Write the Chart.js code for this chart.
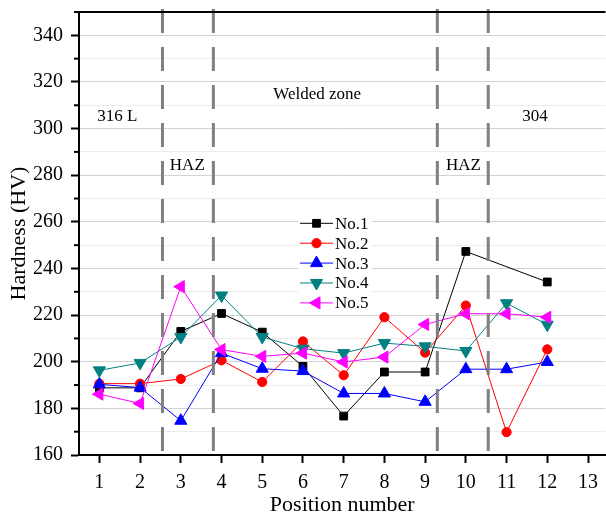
<!DOCTYPE html>
<html>
<head>
<meta charset="UTF-8">
<title>Hardness</title>
<style>
  body { margin: 0; background: #fff; }
  #wrap { width: 606px; height: 518px; overflow: hidden; }
</style>
</head>
<body>
<div id="wrap"><canvas id="myChart" width="606" height="518"></canvas></div>
<script src="https://cdn.jsdelivr.net/npm/chart.js"></script>
<script>
// data
const positions = [1, 2, 3, 4, 5, 6, 7, 8, 9, 10, 11, 12];
const no1 = [188.8, 188.8, 213.0, 220.7, 212.7, 198.0, 176.7, 195.6, 195.6, 247.3, null, 234.2];
const no2 = [190.6, 190.6, 192.6, 200.6, 191.3, 208.7, 194.2, 219.1, 203.9, 224.1, 169.8, 205.3];
const no3 = [190.3, 188.9, 174.7, 203.7, 197.0, 196.0, 186.4, 186.4, 182.8, 196.8, 196.8, 199.9];
const no4 = [196.3, 199.5, 210.6, 228.4, 210.6, 205.6, 203.7, 208.0, 206.6, 204.6, 225.1, 215.9];
const no5 = [186.1, 182.1, 232.2, 205.2, 202.3, 203.7, 199.9, 202.0, 216.0, 220.6, 220.6, 219.1];
const seriesNames = ['No.1', 'No.2', 'No.3', 'No.4', 'No.5'];
const xTicks = [1, 2, 3, 4, 5, 6, 7, 8, 9, 10, 11, 12, 13];
const zoneBounds = [2.55, 3.8, 9.3, 10.55];
const zoneNames = ['316 L', 'Welded zone', '304', 'HAZ', 'HAZ'];

const FONT = "'Liberation Serif', 'Times New Roman', serif";

function pts(arr) {
    return positions.map((p, i) => ({ x: p, y: arr[i] }));
}

const styles = [
    { color: '#000000', pointStyle: 'rect', radius: 5.5, rotation: 0 },
    { color: '#ff0000', pointStyle: 'circle', radius: 4.6, rotation: 0 },
    { color: '#0000ff', pointStyle: 'triangle', radius: 7, rotation: 0 },
    { color: '#008080', pointStyle: 'triangle', radius: 7, rotation: 180 },
    { color: '#ff00ff', pointStyle: 'triangle', radius: 7, rotation: 270 }
];

const datasets = [no1, no2, no3, no4, no5].map((arr, i) => ({
    label: seriesNames[i],
    data: pts(arr),
    borderColor: styles[i].color,
    backgroundColor: styles[i].color,
    borderWidth: 1,
    pointStyle: styles[i].pointStyle,
    pointRadius: styles[i].radius,
    pointRotation: styles[i].rotation,
    pointBorderWidth: 1,
    tension: 0,
    spanGaps: true,
    order: 5 - i
}));

// zone lines, zone texts, top frame, minor ticks, legend
const decor = {
    id: 'decor',
    afterDatasetsDraw(chart) {
        const ctx = chart.ctx;
        const xs = chart.scales.x, ys = chart.scales.y;
        const area = chart.chartArea;

        ctx.save();
        ctx.strokeStyle = '#808080';
        ctx.lineWidth = 3;
        ctx.setLineDash([24, 14]);
        zoneBounds.forEach(v => {
            const px = xs.getPixelForValue(v);
            ctx.beginPath();
            ctx.moveTo(px, area.top - 3);
            ctx.lineTo(px, area.bottom);
            ctx.stroke();
        });
        ctx.restore();

        // texts
        const spots = [[1.44, 305], [6.35, 314.7], [11.7, 305], [3.16, 284], [9.94, 284]];
        ctx.save();
        ctx.fillStyle = '#000';
        ctx.font = '17px ' + FONT;
        ctx.textAlign = 'center';
        ctx.textBaseline = 'middle';
        zoneNames.forEach((t, i) => {
            ctx.fillText(t, xs.getPixelForValue(spots[i][0]), ys.getPixelForValue(spots[i][1]));
        });
        ctx.restore();

        // top frame
        ctx.save();
        ctx.strokeStyle = '#000';
        ctx.lineWidth = 2;
        ctx.beginPath();
        ctx.moveTo(area.left - 1, area.top);
        ctx.lineTo(area.right, area.top);
        ctx.stroke();

        // minor y ticks
        ctx.lineWidth = 2;
        ys.ticks.forEach(t => {
            if (t.value % 20 !== 0) {
                const py = ys.getPixelForValue(t.value);
                ctx.beginPath();
                ctx.moveTo(area.left - 5, py);
                ctx.lineTo(area.left, py);
                ctx.stroke();
            }
        });
        ctx.restore();

        // legend
        const lx = 300, ly = 223.3, step = 19.9;
        ctx.save();
        ctx.fillStyle = '#fff';
        ctx.fillRect(lx - 2, ly - 11, 74, step * 5 + 2);
        chart.data.datasets.forEach((ds, i) => {
            const y = ly + i * step;
            ctx.strokeStyle = ds.borderColor;
            ctx.lineWidth = 1;
            ctx.beginPath();
            ctx.moveTo(lx, y);
            ctx.lineTo(lx + 33, y);
            ctx.stroke();
            ctx.fillStyle = ds.backgroundColor;
            ctx.strokeStyle = ds.borderColor;
            Chart.helpers.drawPoint(ctx, {
                pointStyle: ds.pointStyle,
                radius: ds.pointRadius,
                rotation: ds.pointRotation,
                borderWidth: 1
            }, lx + 16.5, y);
            ctx.fillStyle = '#000';
            ctx.font = '17px ' + FONT;
            ctx.textAlign = 'left';
            ctx.textBaseline = 'middle';
            ctx.fillText(ds.label, lx + 35, y + 1);
        });
        ctx.restore();
    }
};

const config = {
    type: 'line',
    data: { datasets },
    options: {
        responsive: false,
        animation: false,
        layout: { autoPadding: false, padding: { top: 12, right: 0, left: 0, bottom: 0 } },
        plugins: { legend: { display: false }, tooltip: { enabled: false } },
        scales: {
            x: {
                type: 'linear',
                min: 0.5,
                max: 13.43,
                afterBuildTicks: s => { s.ticks = xTicks.map(v => ({ value: v })); },
                afterFit: s => { s.height = 63; },
                grid: { drawOnChartArea: false, drawTicks: true, tickLength: 8, tickColor: '#000', tickWidth: 2 },
                border: { color: '#000', width: 2 },
                ticks: { color: '#000', font: { family: FONT, size: 20 }, padding: 8, maxRotation: 0 },
                title: { display: true, text: 'Position number', color: '#000', font: { family: FONT, size: 22 }, padding: { top: 0, bottom: 0 } }
            },
            y: {
                min: 160,
                max: 350,
                afterFit: s => { s.width = 79; },
                grid: {
                    color: c => (c.tick.value % 20 === 0 ? '#d2d2d2' : '#ececec'),
                    lineWidth: 1,
                    tickLength: 8,
                    tickWidth: 2,
                    tickColor: c => (c.tick.value % 20 === 0 && c.tick.value < 350 ? '#000' : 'rgba(0,0,0,0)')
                },
                border: { color: '#000', width: 2 },
                ticks: {
                    stepSize: 10,
                    color: '#000',
                    font: { family: FONT, size: 20, lineHeight: 0.3 },
                    padding: 8,
                    callback: v => (v % 20 === 0 && v < 350 ? v : '')
                },
                title: { display: true, text: 'Hardness (HV)', color: '#000', font: { family: FONT, size: 22 }, padding: { top: 6, bottom: 0 } }
            }
        }
    },
    plugins: [decor]
};

const myChart = new Chart(document.getElementById('myChart'), config);
</script>
</body>
</html>
